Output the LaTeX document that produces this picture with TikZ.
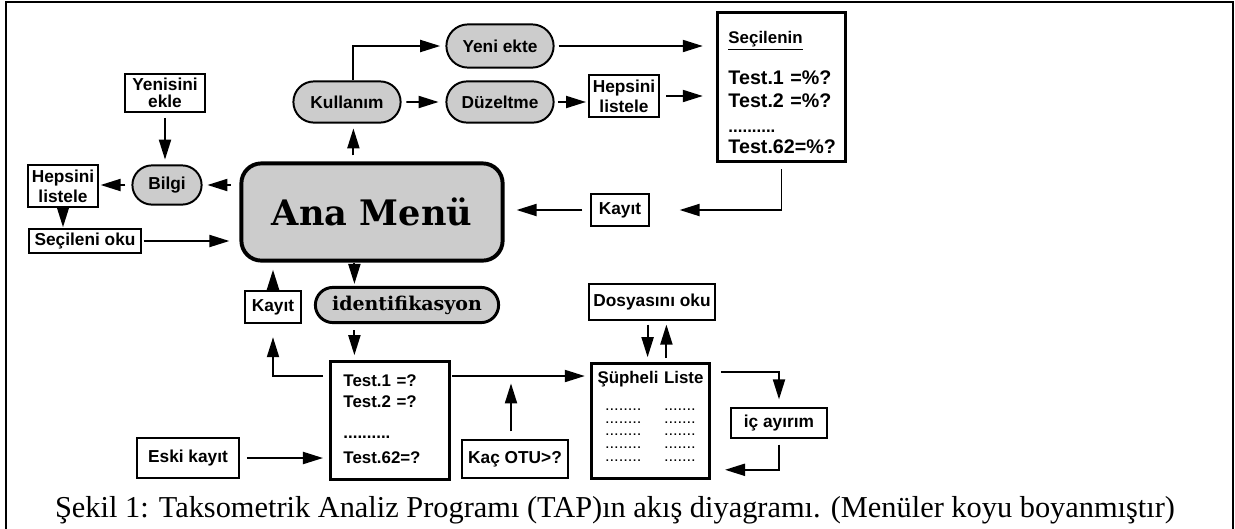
\documentclass[tikz,border=0pt]{standalone}
\usepackage{fontspec}
\setmainfont{Liberation Serif}
\newfontfamily\kutufont{Liberation Sans}
\newfontfamily\menufont{DejaVu Serif}
\usetikzlibrary{arrows.meta,shapes.misc}

\newcommand{\noktasatiri}{{\fontsize{8}{9}\selectfont .\kern1pt.\kern1pt.\kern1pt.\kern1pt.\kern1pt.\kern1pt.\kern1pt.\hspace{0.6cm}.\kern1pt.\kern1pt.\kern1pt.\kern1pt.\kern1pt.\kern1pt.}}

\tikzset{
    kutu/.style={draw, line width=1.4pt, inner sep=0pt, align=center,
        font=\kutufont\bfseries\fontsize{12.3}{14}\selectfont},
    menu/.style={kutu, rounded rectangle, fill=black!20},
    liste/.style={draw, line width=2.1pt, inner ysep=0pt, anchor=north west,
        font=\kutufont\bfseries\fontsize{12}{14}\selectfont},
    ok/.style={-{Triangle[length=0.5cm,width=0.3cm]}, line width=1.4pt},
}

\begin{document}
\begin{tikzpicture}[x=0.025cm, y=-0.025cm]
            \useasboundingbox (0,0) rectangle (1235,528);
            \draw[line width=1.4pt] (6,540) -- (6,2) -- (1233,2) -- (1233,540);

            \node[kutu, minimum width=2cm, minimum height=0.95cm] (yenisini) at (165,93) {Yenisini\\[-0.07cm]ekle};
            \node[menu, minimum width=1.73cm, minimum height=0.98cm] (bilgi) at (167,185) {Bilgi};
            \node[kutu, minimum width=1.73cm, minimum height=1.05cm] (hepsini1) at (63,186) {Hepsini\\listele};
            \node[kutu, minimum width=2.78cm, minimum height=0.58cm] (secileni) at (85,241) {Seçileni oku};

            \node[draw, line width=2.8pt, rounded corners=0.5cm, fill=black!20, minimum width=6.53cm, minimum height=2.43cm,
                font=\menufont\bfseries\fontsize{25}{30}\selectfont] (anamenu) at (372,212) {Ana Menü};

            \node[menu, minimum width=2.68cm, minimum height=1.03cm] (kullanim) at (347,102) {Kullanım};
            \node[menu, minimum width=2.68cm, minimum height=1.08cm] (yeniekte) at (500,46) {Yeni ekte};
            \node[menu, minimum width=2.68cm, minimum height=1.03cm] (duzeltme) at (500,102) {Düzeltme};
            \node[kutu, minimum width=1.75cm, minimum height=1.05cm] (hepsini2) at (624,96) {Hepsini\\listele};

            \node[liste, inner xsep=0.275cm, text width=2.65cm, align=left, font=\kutufont\bfseries\fontsize{14}{14}\selectfont] (secilenin) at (716,11)
                {\rule{0pt}{0.78cm}{\fontsize{12}{14}\selectfont\underline{Seçilenin}}\\[0.48cm]Test.1 =\%?\\[0.08cm]Test.2 =\%?\\[0.13cm]{\fontsize{12}{14}\selectfont..........}\\[0.03cm]Test.62=\%?\rule[-0.22cm]{0pt}{0.22cm}};

            \node[kutu, minimum width=1.43cm, minimum height=0.78cm] (kayit1) at (620,210) {Kayıt};
            \node[kutu, minimum width=1.4cm, minimum height=0.8cm] (kayit2) at (273,307) {Kayıt};
            \node[menu, line width=2.1pt, minimum width=4.58cm, minimum height=0.88cm,
                font=\menufont\bfseries\fontsize{13.5}{16}\selectfont] (ident) at (407,305) {identifikasyon};

            \node[liste, inner xsep=0.325cm, text width=2.33cm, align=left] (testbox) at (329,360)
                {\rule{0pt}{0.63cm}Test.1 =?\\[0.03cm]Test.2 =?\\[0.28cm]..........\\[0.13cm]Test.62=?\rule[-0.4cm]{0pt}{0.4cm}};

            \node[kutu, minimum width=2.53cm, minimum height=0.98cm] (eskikayit) at (188,458) {Eski kayıt};
            \node[kutu, minimum width=2.63cm, minimum height=0.93cm] (kacotu) at (515,459) {Kaç OTU>?};
            \node[kutu, minimum width=3.13cm, minimum height=0.88cm] (dosya) at (652,302) {Dosyasını oku};

            \node[liste, inner xsep=0.1cm, text width=2.75cm, align=center] (supheli) at (590,362)
                {\rule{0pt}{0.5cm}Şüpheli Liste\\[0.18cm]\noktasatiri\\[-0.175cm]\noktasatiri\\[-0.175cm]\noktasatiri\\[-0.175cm]\noktasatiri\\[-0.175cm]\noktasatiri\rule[-0.43cm]{0pt}{0.43cm}};

            \node[kutu, minimum width=2.4cm, minimum height=0.73cm] (icayirim) at (779,423) {iç ayırım};

            \node[anchor=base, font=\fontsize{21.6}{25}\selectfont] (altyazi) at (615,517)
                {Şekil 1: Taksometrik Analiz Programı (TAP)ın akış diyagramı. (Menüler koyu boyanmıştır)};

            \draw[ok, shorten >=0.13cm] ([xshift=0.16cm]kullanim.north) |- (yeniekte.west);
            \draw[ok, shorten <=0.12cm, shorten >=0.17cm] (kullanim) -- (duzeltme);
            \draw[ok, shorten <=0.08cm, shorten >=0.05cm] (duzeltme.east) -- (duzeltme.east -| hepsini2.west);
            \draw[ok, shorten <=0.15cm, shorten >=0.33cm] (hepsini2.east) -- (hepsini2.east -| secilenin.west);
            \draw[ok, shorten <=0.1cm, shorten >=0.33cm] (yeniekte.east) -- (yeniekte.east -| secilenin.west);
            \draw[ok, shorten <=0.15cm, shorten >=0.75cm] (secilenin.south) |- (kayit1.east);
            \draw[ok, shorten <=0.2cm, shorten >=0.3cm] (kayit1.west) -- (kayit1.west -| anamenu.east);

            \draw[ok, shorten <=0.15cm, shorten >=0.12cm] ([xshift=0.16cm]kullanim.south |- anamenu.north) -- ([xshift=0.16cm]kullanim.south);
            \draw[ok, shorten <=0.22cm, shorten >=0.12cm] (anamenu.west |- bilgi.east) -- (bilgi.east);
            \draw[ok, shorten <=0.15cm, shorten >=0.05cm] (bilgi.west) -- (bilgi.west -| hepsini1.east);
            \draw[ok, shorten <=0.12cm, shorten >=0.12cm] (yenisini.south) -- (yenisini.south |- bilgi.north);
            \draw[ok, shorten >=0.03cm] (hepsini1.south) -- (hepsini1.south |- secileni.north);
            \draw[ok, shorten <=0.05cm, shorten >=0.25cm] (secileni.east) -- (secileni.east -| anamenu.west);

            \draw[ok, shorten >=0.05cm] ([xshift=-0.44cm]anamenu.south) -- ([xshift=-0.44cm]anamenu.south |- ident.north);
            \draw[ok, shorten <=0.15cm, shorten >=0.12cm] ([xshift=-0.44cm]anamenu.south |- ident.south) -- ([xshift=-0.44cm]anamenu.south |- testbox.north);
            \draw[ok, shorten >=0.18cm] (kayit2.north) -- (kayit2.north |- anamenu.south);
            \draw[ok, shorten <=0.15cm, shorten >=0.33cm] ([yshift=-0.4cm]testbox.north west) -| (kayit2.south);
            \draw[ok, shorten <=0.18cm, shorten >=0.15cm] (eskikayit.east) -- (eskikayit.east -| testbox.west);
            \draw[ok, shorten <=0.03cm, shorten >=0.13cm] ([yshift=-0.4cm]testbox.north east) -- ([yshift=-0.4cm]testbox.north east -| supheli.west);

            \coordinate (otuuc) at ([xshift=-0.1cm, yshift=1.4cm]kacotu.north);
            \draw[ok, shorten <=0.2cm] ([xshift=-0.1cm]kacotu.north) -- (otuuc);

            \draw[ok, shorten <=0.1cm, shorten >=0.12cm] ([xshift=-0.11cm]dosya.south) -- ([xshift=-0.11cm]dosya.south |- supheli.north);
            \draw[ok, shorten <=0.1cm, shorten >=0.1cm] ([xshift=0.36cm]dosya.south |- supheli.north) -- ([xshift=0.36cm]dosya.south);
            \draw[ok, shorten <=0.25cm, shorten >=0.2cm] ([yshift=-0.25cm]supheli.north east) -| (icayirim.north);
            \draw[ok, shorten <=0.15cm, shorten >=0.35cm] (icayirim.south) |- ([yshift=0.25cm]supheli.south east);
\end{tikzpicture}
\end{document}
